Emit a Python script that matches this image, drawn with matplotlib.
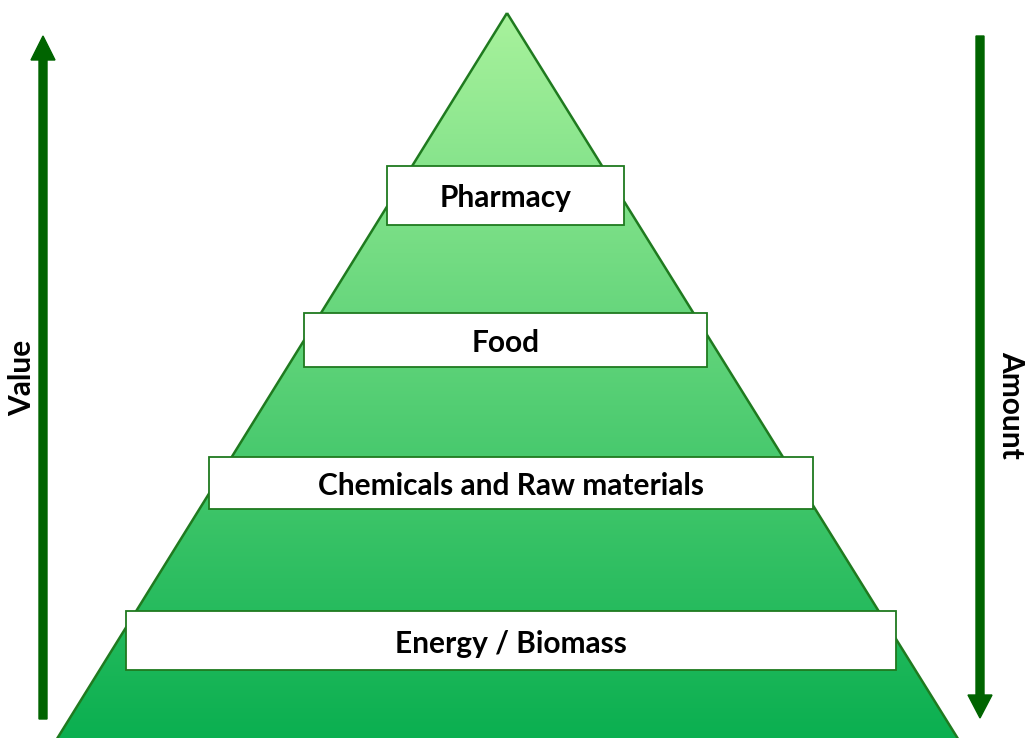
import matplotlib.pyplot as plt
import numpy as np
from matplotlib.patches import Polygon, Rectangle, FancyArrow

# layers, top to bottom
layers = ["Pharmacy", "Food", "Chemicals and Raw materials", "Energy / Biomass"]
# box extents in pixels: left, right, top, bottom
box_x0 = [387, 304, 209, 126]
box_x1 = [624, 707, 813, 896]
box_y0 = [166, 313, 457, 611]
box_y1 = [225, 367, 509, 670]

W, H = 1026, 738
fig = plt.figure(figsize=(W / 100, H / 100), dpi=100)
ax = fig.add_axes([0, 0, 1, 1])
ax.set_xlim(0, W)
ax.set_ylim(H, 0)
ax.axis('off')

edge = '#1f7a1f'
arrow_col = '#006400'

# pyramid with vertical gradient
apex = (507, 13)
base_l = (55, 742)
base_r = (960, 742)
tri = Polygon([apex, base_l, base_r], closed=True, facecolor='none',
              edgecolor=edge, linewidth=1.8, zorder=3)
ax.add_patch(tri)
top_c = np.array([168, 242, 156]) / 255
bot_c = np.array([10, 175, 80]) / 255
t = np.linspace(0, 1, 256)[:, None]
grad = top_c[None, :] * (1 - t) + bot_c[None, :] * t
img = ax.imshow(grad[:, None, :], extent=[0, W, 742, 13], aspect='auto',
                zorder=2, interpolation='bilinear')
img.set_clip_path(tri)

# boxes with labels
for name, x0, x1, y0, y1 in zip(layers, box_x0, box_x1, box_y0, box_y1):
    ax.add_patch(Rectangle((x0, y0), x1 - x0, y1 - y0, facecolor='white',
                           edgecolor=edge, linewidth=1.3, zorder=4))
    ax.text((x0 + x1) / 2, (y0 + y1) / 2 + 3, name, ha='center', va='center',
            fontsize=21.5, fontweight='bold', family='Lato', zorder=5)

# side arrows
ax.add_patch(FancyArrow(43, 719, 0, -683, width=8, head_width=24,
                        head_length=24, length_includes_head=True,
                        color=arrow_col, zorder=3))
ax.add_patch(FancyArrow(980, 36, 0, 682, width=8, head_width=24,
                        head_length=23, length_includes_head=True,
                        color=arrow_col, zorder=3))

ax.text(22, 378, "Value", rotation=90, ha='center', va='center',
        fontsize=21.5, fontweight='bold', family='Lato')
ax.text(1011, 405, "Amount", rotation=-90, ha='center', va='center',
        fontsize=21.5, fontweight='bold', family='Lato')

fig.savefig('out.png', dpi=100)
